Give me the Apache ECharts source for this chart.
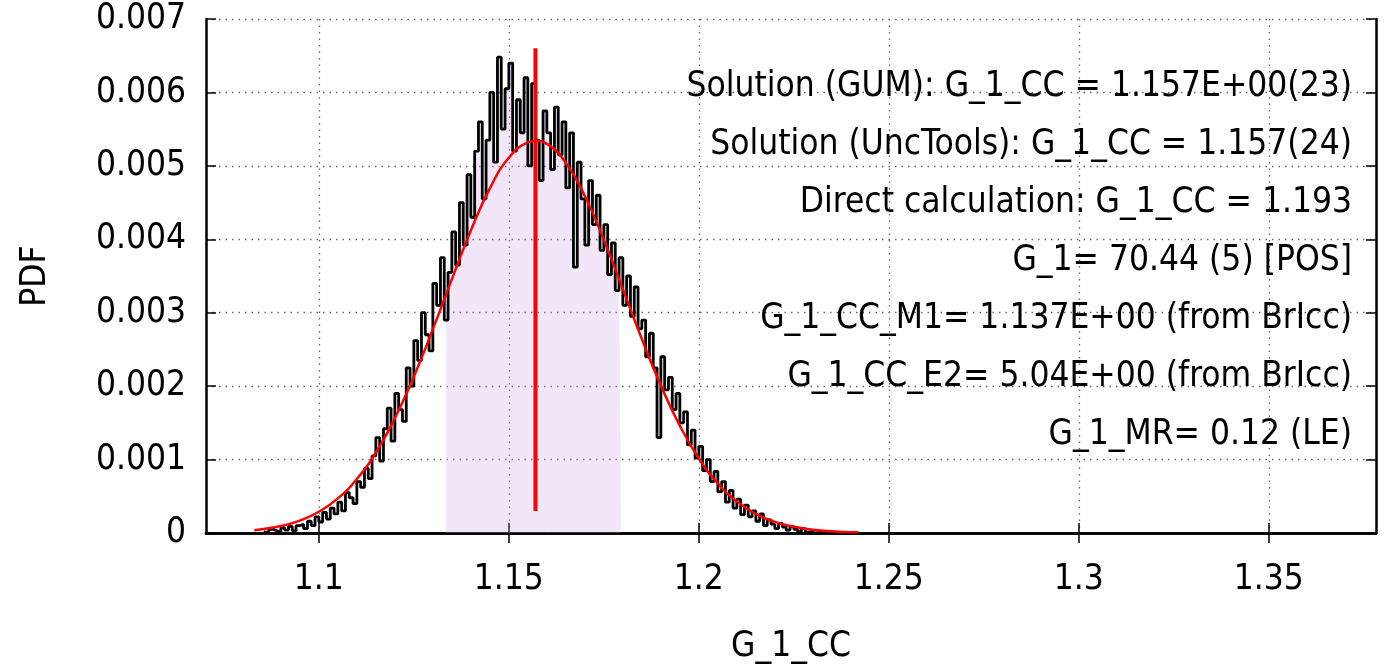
<!DOCTYPE html>
<html>
<head>
<meta charset="utf-8">
<script src="https://cdn.jsdelivr.net/npm/echarts@6/dist/echarts.min.js"></script>
<style>html,body{margin:0;padding:0;background:#fff}#c{width:1384px;height:670px}</style>
</head>
<body>
<div id="c"></div>
<script>
// ---- data ----
const histStart = 1.085;
const histWidth = 0.001;
const histValues = [
  0.00002, 0.00000, 0.00005, 0.00003, 0.00001, 0.00007, 0.00004, 0.00009, 0.00003, 0.00010,
  0.00012, 0.00006, 0.00016, 0.00010, 0.00022, 0.00015, 0.00028, 0.00019, 0.00034, 0.00026,
  0.00042, 0.00030, 0.00055, 0.00048, 0.00040, 0.00070, 0.00062, 0.00088, 0.00074, 0.00105,
  0.00130, 0.00098, 0.00142, 0.00170, 0.00125, 0.00190, 0.00168, 0.00152, 0.00225, 0.00200,
  0.00262, 0.00235, 0.00300, 0.00270, 0.00248, 0.00340, 0.00310, 0.00375, 0.00290, 0.00355,
  0.00410, 0.00365, 0.00450, 0.00392, 0.00488, 0.00430, 0.00520, 0.00560, 0.00455, 0.00535,
  0.00600, 0.00505, 0.00648, 0.00550, 0.00605, 0.00640, 0.00520, 0.00590, 0.00545, 0.00620,
  0.00500, 0.00612, 0.00535, 0.00480, 0.00575, 0.00545, 0.00495, 0.00580, 0.00515, 0.00560,
  0.00470, 0.00545, 0.00362, 0.00505, 0.00455, 0.00392, 0.00480, 0.00420, 0.00460, 0.00385,
  0.00420, 0.00352, 0.00395, 0.00330, 0.00375, 0.00310, 0.00350, 0.00295, 0.00335, 0.00278,
  0.00290, 0.00240, 0.00272, 0.00225, 0.00130, 0.00240, 0.00195, 0.00212, 0.00168, 0.00190,
  0.00150, 0.00165, 0.00120, 0.00140, 0.00102, 0.00118, 0.00085, 0.00100, 0.00070, 0.00084,
  0.00056, 0.00070, 0.00042, 0.00058, 0.00034, 0.00046, 0.00025, 0.00038, 0.00022, 0.00030,
  0.00016, 0.00026, 0.00010, 0.00018, 0.00012, 0.00006, 0.00013, 0.00008, 0.00004, 0.00009,
  0.00005, 0.00002, 0.00006, 0.00001, 0.00003, 0.00000, 0.00002, 0.00000
];
const shadeRange = [1.133, 1.180];
const curveX = [1.083, 1.085, 1.09, 1.095, 1.10, 1.105, 1.11, 1.115, 1.12, 1.125, 1.13, 1.135, 1.14, 1.145, 1.15, 1.155, 1.157,
  1.16, 1.165, 1.17, 1.175, 1.18, 1.185, 1.19, 1.195, 1.20, 1.205, 1.21, 1.215, 1.22, 1.225, 1.23, 1.235, 1.24, 1.242];
const curveY = [0.000039, 0.000051, 0.000095, 0.000169, 0.000289, 0.000471, 0.000735, 0.001095, 0.001563, 0.00213, 0.002776, 0.003458, 0.004119, 0.004693, 0.00511, 0.00532, 0.00534,
  0.0053, 0.00504, 0.004589, 0.003992, 0.003321, 0.002642, 0.002009, 0.001461, 0.001015, 0.000675, 0.000429, 0.000261, 0.000151, 0.000084, 0.000045, 0.000023, 0.000011, 0.000009];
const meanX = 1.157;
const meanYRange = [0.0003, 0.0066];
const xTicks = [1.1, 1.15, 1.2, 1.25, 1.3, 1.35];
const xRange = [1.0703, 1.3782];
const yRange = [0, 0.007];
const yStep = 0.001;
const notes = [
  'Solution (GUM): G_1_CC = 1.157E+00(23)',
  'Solution (UncTools): G_1_CC = 1.157(24)',
  'Direct calculation: G_1_CC = 1.193',
  'G_1= 70.44 (5) [POS]',
  'G_1_CC_M1= 1.137E+00 (from BrIcc)',
  'G_1_CC_E2= 5.04E+00 (from BrIcc)',
  'G_1_MR= 0.12 (LE)'
];
const xTitle = 'G_1_CC';
const yTitle = 'PDF';

// ---- build ----
const FONT = '"DejaVu Sans Condensed", "DejaVu Sans", sans-serif';
const FS = 35;
const hist = histValues.map((v, i) => [histStart + histWidth * (i + 0.5), v]);
const shade = hist.filter(p => p[0] >= shadeRange[0] && p[0] <= shadeRange[1]);
const curve = curveX.map((x, i) => [x, curveY[i]]);
const mean = meanYRange.map(y => [meanX, y]);

const chart = echarts.init(document.getElementById('c'), null, {renderer: 'canvas'});
const axisLine = {show: true, lineStyle: {color: '#000', width: 2.5}};
const tick = {show: true, inside: true, length: 10, lineStyle: {color: '#000', width: 1.5}};
const split = {show: true, lineStyle: {color: '#666', width: 1.3, type: [1.5, 5]}};

chart.setOption({
  animation: false,
  grid: {left: 206, top: 19, right: 8, bottom: 137, containLabel: false},
  xAxis: [{
    type: 'value', min: xRange[0], max: xRange[1],
    axisLine: axisLine,
    axisTick: Object.assign({}, tick, {customValues: xTicks}),
    axisLabel: {customValues: xTicks, margin: 29, color: '#000', fontFamily: FONT, fontSize: FS},
    splitLine: split,
    name: xTitle, nameLocation: 'middle', nameGap: 96,
    nameTextStyle: {color: '#000', fontFamily: FONT, fontSize: FS}
  }, {
    type: 'value', position: 'top', min: xRange[0], max: xRange[1],
    axisLine: axisLine,
    axisTick: Object.assign({}, tick, {customValues: xTicks}),
    axisLabel: {show: false, customValues: xTicks},
    splitLine: {show: false}
  }],
  yAxis: [{
    type: 'value', min: yRange[0], max: yRange[1], interval: yStep,
    axisLine: axisLine, axisTick: tick,
    axisLabel: {margin: 20, color: '#000', fontFamily: FONT, fontSize: FS},
    splitLine: split,
    name: yTitle, nameLocation: 'middle', nameGap: 153, nameRotate: 90,
    nameTextStyle: {color: '#000', fontFamily: FONT, fontSize: FS}
  }, {
    type: 'value', position: 'right', min: yRange[0], max: yRange[1], interval: yStep,
    axisLine: axisLine, axisTick: tick,
    axisLabel: {show: false}, splitLine: {show: false}
  }],
  series: [{
    type: 'line', step: 'middle', data: shade, showSymbol: false, silent: true,
    lineStyle: {width: 0, opacity: 0},
    areaStyle: {color: 'rgba(200,160,232,0.25)', opacity: 1},
    z: 1
  }, {
    type: 'line', step: 'middle', data: hist, showSymbol: false, silent: true,
    lineStyle: {color: '#000', width: 2.8}, z: 2
  }, {
    type: 'line', smooth: true, data: curve, showSymbol: false, silent: true,
    lineStyle: {color: '#ff0000', width: 2.5}, z: 3
  }, {
    type: 'line', data: mean, showSymbol: false, silent: true,
    lineStyle: {color: '#ff0000', width: 4}, z: 4
  }],
  graphic: notes.map((t, i) => ({
    type: 'text', x: 1352, y: 87 + 58 * i, z: 10,
    style: {text: t, font: FS + 'px ' + FONT, fill: '#000', align: 'right', verticalAlign: 'middle'}
  }))
});
</script>
</body>
</html>
